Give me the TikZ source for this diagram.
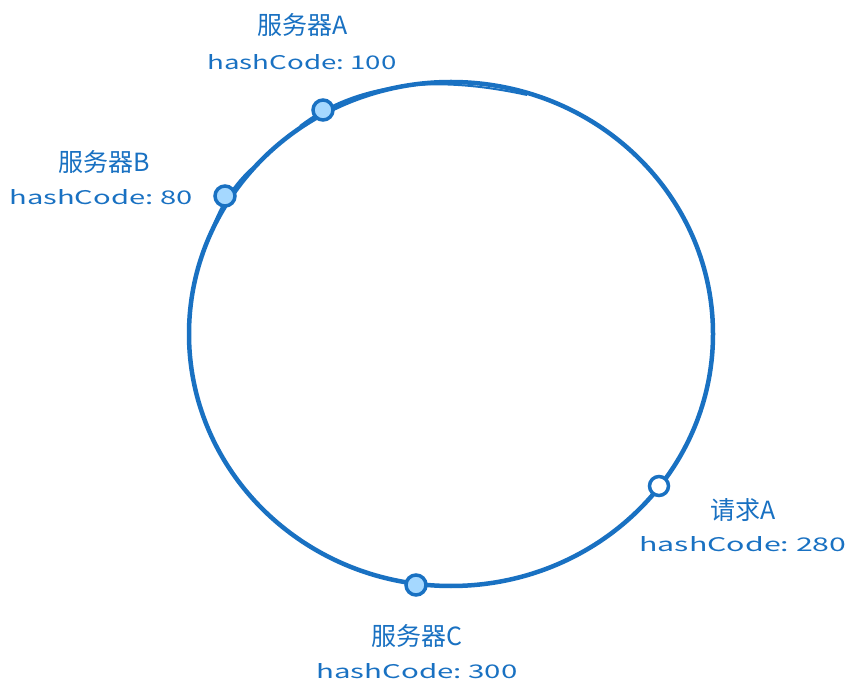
\documentclass[tikz,border=0pt]{standalone}
\usepackage{fontspec}
\setmainfont{Noto Sans CJK SC}
\definecolor{strokeblue}{HTML}{1971C2}
\definecolor{fillblue}{HTML}{A5D8FF}
\newcommand{\codefit}[2]{\resizebox{#1}{15pt}{#2}}
\begin{document}
\begin{tikzpicture}[x=1pt,y=-1pt,
  ring/.style={draw=strokeblue,line width=4.5pt},
  sketch/.style={draw=strokeblue,line width=2pt},
  server/.style={circle,draw=strokeblue,fill=fillblue,line width=3.5pt,minimum size=20pt,inner sep=0pt},
  request/.style={circle,draw=strokeblue,fill=white,line width=3.5pt,minimum size=19pt,inner sep=0pt},
  title/.style={text=strokeblue,font=\fontsize{25}{27}\selectfont,inner sep=0pt},
  code/.style={text=strokeblue,font=\fontsize{22}{24}\selectfont,inner sep=0pt}]
\useasboundingbox (0,0) rectangle (857,700);
\fill[white] (0,0) rectangle (857,700);
\draw[ring] (451,334) ellipse [x radius=262, y radius=252];
\draw[sketch] (300,126) .. controls (360,80) and (440,76) .. (527,95);
\draw[sketch] (211,232) .. controls (218,212) and (230,188) .. (252,168);
\node[server] (sa) at (323,110) {};
\node[server] (sb) at (225,196) {};
\node[server] (sc) at (416,585) {};
\node[request] (ra) at (659,486) {};
\node[title] (tsa) at (303,25) {服务器A};
\node[code] (csa) at (302,62) {\codefit{189pt}{hashCode:\ 100}};
\node[title] (tsb) at (104,162) {服务器B};
\node[code] (csb) at (101,197) {\codefit{183pt}{hashCode:\ 80}};
\node[title] (tra) at (743,510) {请求A};
\node[code] (cra) at (743,544) {\codefit{207pt}{hashCode:\ 280}};
\node[title] (tsc) at (417,636) {服务器C};
\node[code] (csc) at (417,671) {\codefit{201pt}{hashCode:\ 300}};
\end{tikzpicture}
\end{document}
